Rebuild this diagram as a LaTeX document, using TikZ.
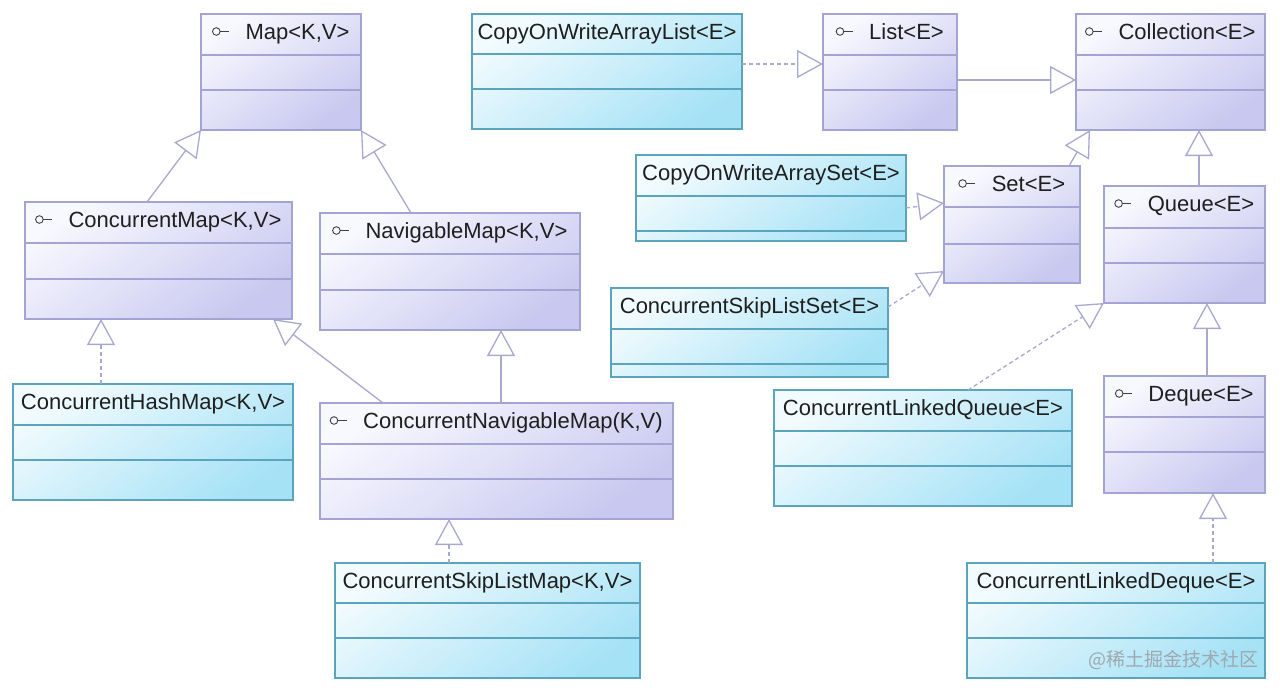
\documentclass[tikz,border=0pt]{standalone}
\usepackage{fontspec}
\setmainfont{Liberation Sans}
\newfontfamily\cjkfont{Noto Sans CJK SC}
\usetikzlibrary{arrows.meta,calc}
\definecolor{ifborder}{HTML}{A4A4D4}
\definecolor{iftop}{HTML}{F8F8FF}
\definecolor{ifbot}{HTML}{C8C8F0}
\definecolor{clborder}{HTML}{5AA4BE}
\definecolor{cltop}{HTML}{F2FBFE}
\definecolor{clbot}{HTML}{A6E2F6}
\definecolor{conn}{HTML}{A8A8D0}
\definecolor{wmcol}{HTML}{9EA8B0}
\newcommand\ifbox[8]{%
  \node[iface, minimum width=#4-#2, minimum height=#5-#3, anchor=north west] (#1) at (#2,#3) {};
  \draw[ifaceline] (#2,#6) -- (#4,#6) (#2,#7) -- (#4,#7);
  \node[title] (#1t) at ({(#2+#4)/2+16.5},#3+25.5) {#8};
  \draw[icon] ([xshift=-29pt,yshift=8pt]#1t.base west) circle (3.8pt);
  \draw[icon] ([xshift=-25.2pt,yshift=8.5pt]#1t.base west) -- ++(9,0);
}
\newcommand\clbox[8]{%
  \node[cls, minimum width=#4-#2, minimum height=#5-#3, anchor=north west] (#1) at (#2,#3) {};
  \draw[clsline] (#2,#6) -- (#4,#6) (#2,#7) -- (#4,#7);
  \node[title] (#1t) at ({(#2+#4)/2},#3+25.5) {#8};
}
\begin{document}
\begin{tikzpicture}[x=1pt,y=-1pt,
  iface/.style={draw=ifborder, line width=1.2pt, top color=iftop, bottom color=ifbot, shading angle=35, inner sep=0pt, outer sep=0pt},
  ifaceline/.style={draw=ifborder, line width=1.2pt},
  cls/.style={draw=clborder, line width=1.2pt, top color=cltop, bottom color=clbot, shading angle=35, inner sep=0pt, outer sep=0pt},
  clsline/.style={draw=clborder, line width=1.2pt},
  title/.style={inner sep=0pt, font=\fontsize{22}{26}\selectfont, text=black!88, anchor=base},
  icon/.style={draw=black!75, line width=0.9pt},
  gen/.style={draw=conn, line width=1.3pt, -{Triangle[open, length=26pt, width=28pt, fill=white]}},
  real/.style={gen, dash pattern=on 4pt off 3pt}]
\fill[white] (0,0) rectangle (1280,689);
\useasboundingbox (0,0) rectangle (1280,689);

% interfaces
\ifbox{map}{201}{14}{361}{130}{55}{90}{Map<K,V>}
\ifbox{cmap}{25}{202}{292}{319}{243}{279}{ConcurrentMap<K,V>}
\ifbox{nmap}{320}{213}{580}{330}{254}{290}{NavigableMap<K,V>}
\ifbox{cnm}{320}{403}{673}{519}{444}{479}{ConcurrentNavigableMap(K,V)}
\ifbox{list}{823}{14}{957}{130}{55}{90}{List<E>}
\ifbox{coll}{1076}{14}{1265}{130}{55}{90}{Collection<E>}
\ifbox{set}{944}{166}{1080}{283}{207}{244}{Set<E>}
\ifbox{queue}{1104}{186}{1265}{303}{228}{263}{Queue<E>}
\ifbox{deque}{1104}{376}{1265}{493}{417}{452}{Deque<E>}

% classes
\clbox{chm}{13}{384}{293}{500}{425}{460}{ConcurrentHashMap<K,V>}
\clbox{cslm}{335}{563}{640}{678}{603}{638}{ConcurrentSkipListMap<K,V>}
\clbox{cowal}{472}{14}{742}{129}{54}{89}{CopyOnWriteArrayList<E>}
\clbox{cowas}{636}{155}{906}{241}{196}{231}{CopyOnWriteArraySet<E>}
\clbox{csls}{611}{288}{888}{377}{329}{364}{ConcurrentSkipListSet<E>}
\clbox{clq}{774}{390}{1072}{506}{431}{466}{ConcurrentLinkedQueue<E>}
\clbox{cld}{967}{563}{1265}{678}{603}{638}{ConcurrentLinkedDeque<E>}

% connectors
\draw[gen] ([xshift=122pt]cmap.north west) -- (map.south west);
\draw[gen] ([xshift=91pt]nmap.north west) -- (map.south east);
\coordinate (c3) at ([xshift=88pt]chm.north west);
\draw[real] (c3) -- (c3 |- cmap.south);
\draw[gen] ([xshift=63pt]cnm.north west) -- ([xshift=-19pt]cmap.south east);
\coordinate (c5) at ([xshift=181pt]cnm.north west);
\draw[gen] (c5) -- (c5 |- nmap.south);
\coordinate (c6) at ([xshift=114pt]cslm.north west);
\draw[real] (c6) -- (c6 |- cnm.south);
\coordinate (c7) at ([yshift=-50pt]cowal.north east);
\draw[real] (c7) -- (c7 -| list.west);
\coordinate (c8) at ([yshift=-66pt]list.north east);
\draw[gen] (c8) -- (c8 -| coll.west);
\draw[real] ([yshift=-53pt]cowas.north east) -- ([yshift=-37pt]set.north west);
\draw[real] ([yshift=-19pt]csls.north east) -- ([yshift=-105pt]set.north west);
\draw[gen] ([xshift=-11pt]set.north east) -- ([xshift=14pt]coll.south west);
\coordinate (c12) at ([xshift=95pt]queue.north west);
\draw[gen] (c12) -- (c12 |- coll.south);
\draw[real] ([xshift=194pt]clq.north west) -- (queue.south west);
\coordinate (c14) at ([xshift=103pt]deque.north west);
\draw[gen] (c14) -- (c14 |- queue.south);
\coordinate (c15) at ([xshift=246pt]cld.north west);
\draw[real] (c15) -- (c15 |- deque.south);

% watermark
\node[font=\cjkfont\fontsize{19}{22}\selectfont, text=wmcol, anchor=east, inner sep=0pt] (wm) at (1259,660) {@稀土掘金技术社区};
\end{tikzpicture}
\end{document}
